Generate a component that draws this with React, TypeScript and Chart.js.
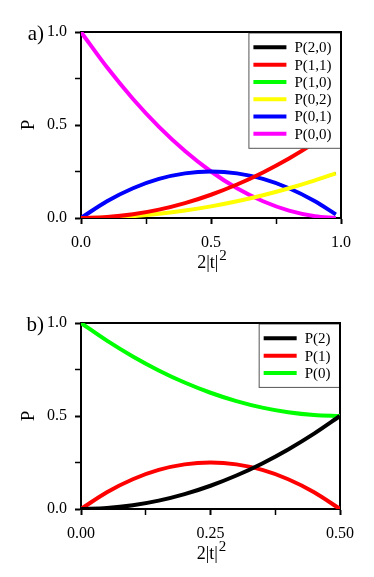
import React, { useEffect, useRef } from "react";
import { Chart, registerables } from "chart.js";

Chart.register(...registerables);

// ---- Panel a) data ----
const xA = [0, 0.1, 0.2, 0.3, 0.4, 0.5, 0.6, 0.7, 0.8, 0.9, 0.98];
const p20 = [0, 0.0025, 0.01, 0.0225, 0.04, 0.0625, 0.09, 0.1225, 0.16, 0.2025, 0.24];
const p11 = [0, 0.005, 0.02, 0.045, 0.08, 0.125, 0.18, 0.245, 0.32, 0.405, 0.48];
const p10 = [0, 0.09, 0.16, 0.21, 0.24, 0.25, 0.24, 0.21, 0.16, 0.09, 0.0196];
const p02 = [0, 0.0025, 0.01, 0.0225, 0.04, 0.0625, 0.09, 0.1225, 0.16, 0.2025, 0.24];
const p01 = [0, 0.09, 0.16, 0.21, 0.24, 0.25, 0.24, 0.21, 0.16, 0.09, 0.0196];
const p00 = [1, 0.81, 0.64, 0.49, 0.36, 0.25, 0.16, 0.09, 0.04, 0.01, 0.0004];
const labelsA = ["P(2,0)", "P(1,1)", "P(1,0)", "P(0,2)", "P(0,1)", "P(0,0)"];
const colorsA = ["#000000", "#ff0000", "#00ff00", "#ffff00", "#0000ff", "#ff00ff"];
const ordersA = [10, 0, 10, 0, 0, 0];
const xTicksA = [0, 0.5, 1.0];

// ---- Panel b) data ----
const xB = [0, 0.05, 0.1, 0.15, 0.2, 0.25, 0.3, 0.35, 0.4, 0.45, 0.5];
const p2 = [0, 0.005, 0.02, 0.045, 0.08, 0.125, 0.18, 0.245, 0.32, 0.405, 0.5];
const p1 = [0, 0.09, 0.16, 0.21, 0.24, 0.25, 0.24, 0.21, 0.16, 0.09, 0];
const p0 = [1, 0.905, 0.82, 0.745, 0.68, 0.625, 0.58, 0.545, 0.52, 0.505, 0.5];
const labelsB = ["P(2)", "P(1)", "P(0)"];
const colorsB = ["#000000", "#ff0000", "#00ff00"];
const xTicksB = [0, 0.25, 0.5];

const yTicks = [0, 0.5, 1.0];

const SERIF = '"Liberation Serif", "Times New Roman", serif';

const decor = {
  id: "decor",
  beforeDatasetsDraw(chart: any) {
    const { ctx, chartArea: a } = chart;
    ctx.save();
    ctx.strokeStyle = "#000";
    ctx.lineWidth = 2;
    ctx.strokeRect(a.left, a.top, a.right - a.left, a.bottom - a.top);
    ctx.restore();
  },
  afterDatasetsDraw(chart: any, _args: any, opts: any) {
    const { ctx, chartArea: a } = chart;
    const ds = chart.data.datasets;
    ctx.save();
    // legend box
    ctx.font = `15px ${SERIF}`;
    const tw = Math.max(...ds.map((d: any) => ctx.measureText(d.label).width));
    const padL = 5, lineLen = 33, gap = 8, padR = 8.5;
    const rowH = 17.3;
    const w = padL + lineLen + gap + tw + padR;
    const h = ds.length * rowH + 11.5;
    const x0 = a.right - 1 - w;
    const y0 = a.top + 1;
    ctx.fillStyle = "#fff";
    ctx.fillRect(x0, y0, w, h);
    ctx.strokeStyle = "#555";
    ctx.lineWidth = 1;
    ctx.strokeRect(x0 + 0.5, y0, w, h);
    ds.forEach((d: any, i: number) => {
      const cy = y0 + 5.7 + rowH / 2 + i * rowH;
      ctx.strokeStyle = d.borderColor;
      ctx.lineWidth = 4;
      ctx.beginPath();
      ctx.moveTo(x0 + padL, cy);
      ctx.lineTo(x0 + padL + lineLen, cy);
      ctx.stroke();
      ctx.fillStyle = "#000";
      ctx.textAlign = "left";
      ctx.textBaseline = "middle";
      ctx.fillText(d.label, x0 + padL + lineLen + gap, cy + 1);
    });
    // redraw frame top/right edges
    ctx.strokeStyle = "#000";
    ctx.lineWidth = 2;
    ctx.beginPath();
    ctx.moveTo(x0, a.top);
    ctx.lineTo(a.right, a.top);
    ctx.lineTo(a.right, y0 + h + 1);
    ctx.stroke();

    // panel label
    ctx.fillStyle = "#000";
    ctx.font = `21px ${SERIF}`;
    ctx.textAlign = "right";
    ctx.textBaseline = "middle";
    ctx.fillText(opts.panel, a.left - 37, a.top + 2);

    // x axis title with superscript
    const main = "2|t|";
    const sup = "2";
    ctx.font = `18px ${SERIF}`;
    const mw = ctx.measureText(main).width;
    ctx.font = `15px ${SERIF}`;
    const sw = ctx.measureText(sup).width;
    const cx = (a.left + a.right) / 2 + 1;
    const start = cx - (mw + sw + 1) / 2;
    const base = a.bottom + 50;
    ctx.textAlign = "left";
    ctx.textBaseline = "alphabetic";
    ctx.font = `18px ${SERIF}`;
    ctx.fillText(main, start, base);
    ctx.font = `15px ${SERIF}`;
    ctx.fillText(sup, start + mw + 1, base - 8);
    ctx.restore();
  },
};

function makeConfig(
  xs: number[],
  series: number[][],
  labels: string[],
  colors: string[],
  orders: number[],
  xMax: number,
  xTicks: number[],
  xDigits: number,
  panel: string,
  padTop: number,
  padRight: number,
  xAxisH: number
): any {
  const tickFont = { family: SERIF, size: 16 };
  const isLabelled = (v: number, list: number[]) => list.some((t) => Math.abs(t - v) < 1e-9);
  return {
    type: "line",
    data: {
      datasets: series.map((s, i) => ({
        label: labels[i],
        data: xs.map((x, j) => ({ x, y: s[j] })),
        borderColor: colors[i],
        backgroundColor: colors[i],
        borderWidth: orders[i] > 0 ? 2.5 : 4,
        pointRadius: 0,
        fill: false,
        cubicInterpolationMode: "monotone",
        order: orders[i],
      })),
    },
    options: {
      responsive: false,
      animation: false,
      devicePixelRatio: 1,
      layout: { padding: { left: 0, top: padTop, right: padRight, bottom: 0 } },
      plugins: {
        legend: { display: false },
        tooltip: { enabled: false },
        decor: { panel },
      },
      scales: {
        x: {
          type: "linear",
          min: 0,
          max: xMax,
          afterFit: (s: any) => {
            s.height = xAxisH;
          },
          ticks: {
            stepSize: xMax / 4,
            autoSkip: false,
            maxRotation: 0,
            color: "#000",
            font: tickFont,
            padding: 9,
            callback: (v: number) => (isLabelled(v, xTicks) ? v.toFixed(xDigits) : ""),
          },
          grid: {
            drawOnChartArea: false,
            drawTicks: true,
            tickLength: 6,
            tickColor: "#000",
            tickWidth: (c: any) => (c.tick && isLabelled(c.tick.value, xTicks) ? 2 : 1.5),
          },
          border: { display: true, color: "#000", width: 2 },
        },
        y: {
          type: "linear",
          min: 0,
          max: 1,
          afterFit: (s: any) => {
            s.width = 81;
          },
          title: {
            display: true,
            text: "P",
            color: "#000",
            font: { family: SERIF, size: 19 },
            padding: { top: 18, bottom: 0 },
          },
          ticks: {
            stepSize: 0.25,
            autoSkip: false,
            color: "#000",
            font: tickFont,
            padding: 8,
            callback: (v: number) => (isLabelled(v, yTicks) ? v.toFixed(1) : ""),
          },
          grid: {
            drawOnChartArea: false,
            drawTicks: true,
            tickLength: 6,
            tickColor: "#000",
            tickWidth: (c: any) => (c.tick && isLabelled(c.tick.value, yTicks) ? 2 : 1.5),
          },
          border: { display: true, color: "#000", width: 2 },
        },
      },
    },
    plugins: [decor],
  };
}

function Panel(props: { cfg: () => any; height: number }) {
  const ref = useRef<HTMLCanvasElement | null>(null);
  useEffect(() => {
    if (!ref.current) return;
    const chart = new Chart(ref.current, props.cfg());
    return () => chart.destroy();
  }, []);
  return (
    <canvas
      ref={ref}
      width={374}
      height={props.height}
      style={{ display: "block", width: 374, height: props.height }}
    />
  );
}

export default function App() {
  return (
    <div style={{ position: "fixed", left: 0, top: 0, width: 374, height: 577, background: "#fff" }}>
      <Panel
        height={290}
        cfg={() =>
          makeConfig(xA, [p20, p11, p10, p02, p01, p00], labelsA, colorsA, ordersA, 1, xTicksA, 1, "a)", 32, 33, 72)
        }
      />
      <Panel
        height={287}
        cfg={() =>
          makeConfig(xB, [p2, p1, p0], labelsB, colorsB, [0, 0, 0], 0.5, xTicksB, 2, "b)", 33, 34, 68)
        }
      />
    </div>
  );
}
